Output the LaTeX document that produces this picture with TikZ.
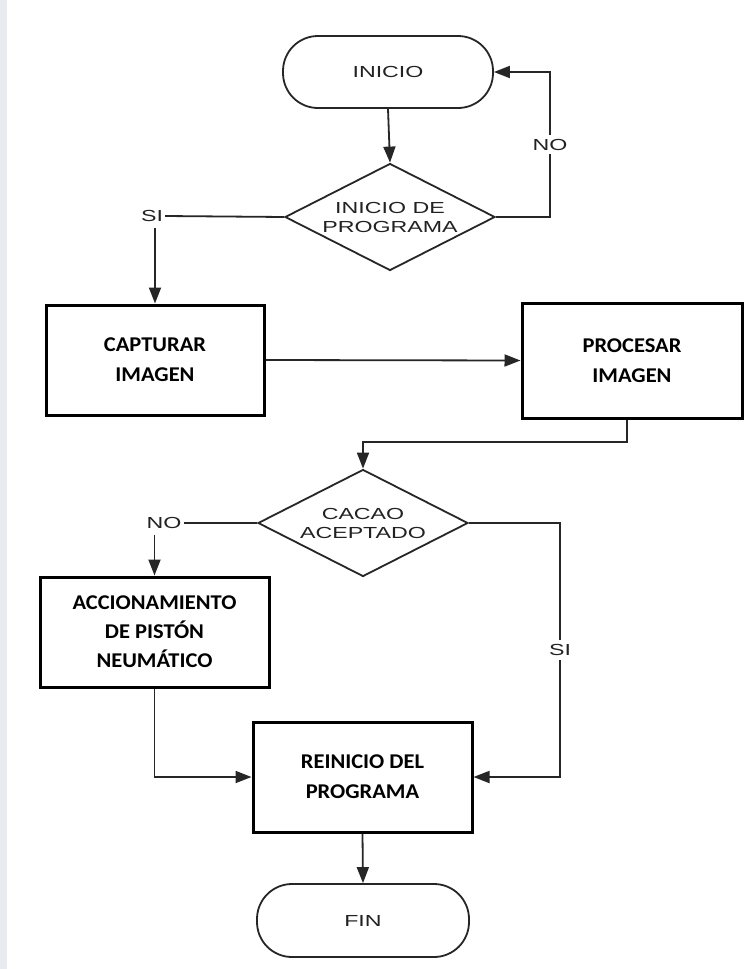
\documentclass[tikz,border=0pt]{standalone}
\usepackage{fontspec}
\usetikzlibrary{shapes.geometric,arrows.meta}
\newfontfamily\labfont[FakeStretch=1.45]{Liberation Sans}
\newfontfamily\boxfont[FakeStretch=1.07]{Carlito}
\definecolor{linec}{HTML}{262626}
\definecolor{txtc}{HTML}{222222}
\definecolor{strip}{HTML}{E9EBF0}
\begin{document}
\begin{tikzpicture}[x=1pt,y=-1pt,
  term/.style={rectangle, draw=linec, line width=1.8pt, rounded corners=35pt,
    font=\labfont\fontsize{16}{19}\selectfont, text=txtc, inner sep=0pt},
  decision/.style={diamond, draw=linec, line width=1.8pt, minimum width=210pt,
    minimum height=107pt, inner sep=0pt, aspect=1.96,
    font=\labfont\fontsize{16}{19}\selectfont, text=txtc, align=center},
  procbox/.style={rectangle, draw=black, line width=3pt,
    font=\boxfont\bfseries\fontsize{21}{30}\selectfont, align=center, inner sep=0pt},
  conn/.style={draw=linec, line width=1.8pt},
  arr/.style={conn, -{Triangle[length=16pt,width=12pt]}},
  lbl/.style={font=\labfont\fontsize{16}{19}\selectfont, text=txtc,
    inner xsep=2pt, inner ysep=6pt},
  lblw/.style={lbl, fill=white, inner ysep=4pt}]
\useasboundingbox (0,0) rectangle (752,969);
\fill[white] (0,0) rectangle (752,969);
\fill[strip] (0,0) rectangle (7,969);

\node[term, minimum width=210pt, minimum height=72pt] (inicio) at (388,72) {INICIO};
\node[decision] (d1) at (390,217) {INICIO DE\\PROGRAMA};
\node[procbox, minimum width=218pt, minimum height=110pt] (capt) at (155,360) {CAPTURAR\\IMAGEN};
\node[procbox, minimum width=220pt, minimum height=115pt] (proc) at (632,360.5) {PROCESAR\\IMAGEN};
\node[decision] (d2) at (363,523) {CACAO\\ACEPTADO};
\node[procbox, minimum width=229pt, minimum height=110pt,
  font=\boxfont\bfseries\fontsize{21}{29}\selectfont] (acc) at (154.5,632) {ACCIONAMIENTO\\DE PISTÓN\\NEUMÁTICO};
\node[procbox, minimum width=219pt, minimum height=110pt] (rein) at (362.5,777) {REINICIO DEL\\PROGRAMA};
\node[term, minimum width=212pt, minimum height=73pt] (fin) at (363,920.5) {FIN};

\node[lbl] (si1) at (152,216) {SI};
\node[lbl] (no2) at (164,523) {NO};

\coordinate (k1) at (550,217);
\coordinate (k2) at (560,523);
\coordinate (k3) at (627,442);

\draw[arr] (inicio.south) -- (d1.north);
\draw[arr] (d1.east) -- (k1) -- node[lblw]{NO} (k1 |- inicio.east) -- (inicio.east);
\draw[conn] (d1.west) -- (si1.east);
\draw[arr] (si1.south -| capt.north) -- (capt.north);
\draw[arr] (capt.east) -- (proc.west);
\draw[arr] (proc.south -| k3) -- (k3) -| (d2.north);
\draw[conn] (d2.west) -- (no2.east);
\draw[arr] (no2.south -| acc.north) -- (acc.north);
\draw[arr] (d2.east) -- (k2) -- node[lblw]{SI} (k2 |- rein.east) -- (rein.east);
\draw[arr] (acc.south) |- (rein.west);
\draw[arr] (rein.south) -- (fin.north);
\end{tikzpicture}
\end{document}
